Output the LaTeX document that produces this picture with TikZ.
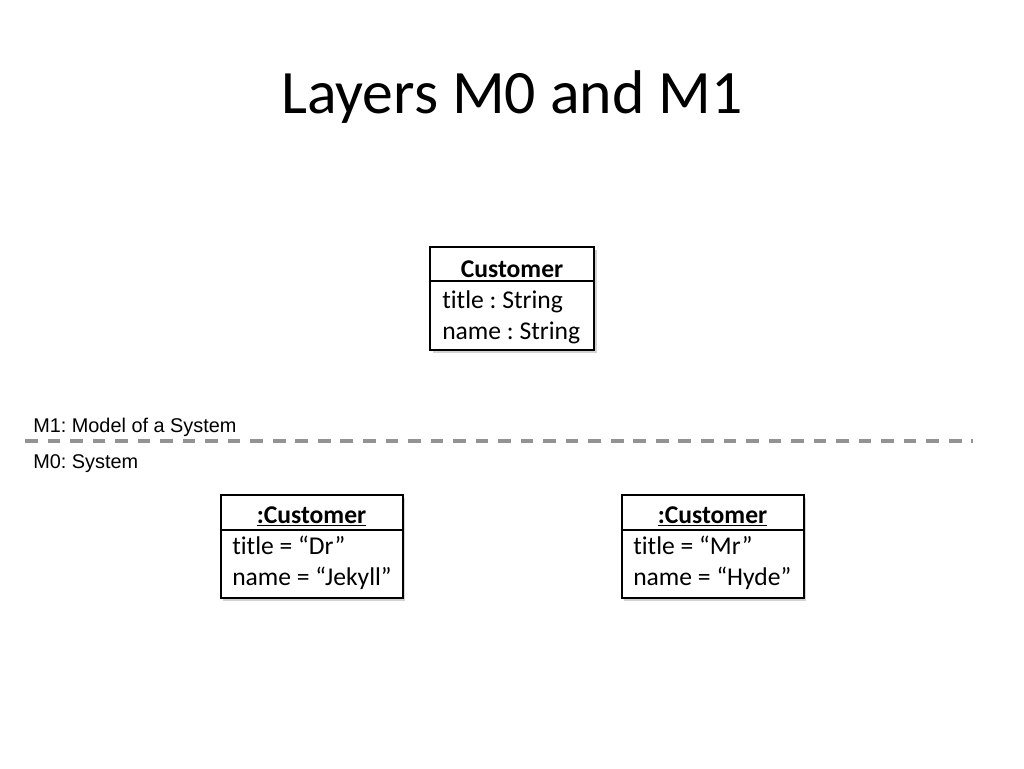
\documentclass[tikz,border=0pt]{standalone}
\usepackage{fontspec}
\setmainfont{Carlito}[Ligatures=NoCommon]
\newfontfamily\labelfont{Liberation Sans}
\usetikzlibrary{shadows, calc}
\frenchspacing
\tikzset{
    cls/.style={draw, line width=1.5pt, fill=white, inner sep=0pt,
        drop shadow={shadow xshift=2pt, shadow yshift=-2pt, opacity=0.35}},
    hd/.style={font=\fontsize{19.2}{23}\selectfont\bfseries, inner sep=0pt, anchor=base},
    attr/.style={font=\fontsize{19.2}{23}\selectfont, inner sep=0pt, anchor=base west},
    lyr/.style={font=\labelfont\fontsize{14.9}{17}\selectfont, inner sep=0pt, anchor=base west},
    divider/.style={draw=gray!85, line width=3pt, dash pattern=on 9.5pt off 7.4pt},
}
\begin{document}
\begin{tikzpicture}[x=0.75pt, y=-0.75pt]
\useasboundingbox (0,0) rectangle (1024,768);
\node[font=\fontsize{46.3}{52}\selectfont, inner sep=0pt] (title) at (512,97) {Layers M0 and M1};

% M1: class
\node[cls, minimum width=123pt, minimum height=77.25pt] (cust) at (512,298.5) {};
\draw[line width=1.5pt] ($(cust.north west)+(0,35)$) -- ($(cust.north east)+(0,35)$);
\node[hd] (custname) at (512,277) {Customer};
\node[attr] (custtitle) at (442,308) {title : String};
\node[attr] (custattr) at (442,339) {name : String};

% layer divider
\node[lyr] (mone) at (33,432) {M1: Model of a System};
\node[lyr] (mzero) at (33,468) {M0: System};
\coordinate (dl) at (25,441);
\coordinate (dr) at (973,441);
\draw[divider] (dl) -- (dr);

% M0: objects
\node[cls, minimum width=136.5pt, minimum height=77.25pt] (jek) at (311.5,546.5) {};
\draw[line width=1.5pt] ($(jek.north west)+(0,36)$) -- ($(jek.north east)+(0,36)$);
\node[hd] (jekname) at (311.5,523) {\underline{:Customer}};
\node[attr] (jektitle) at (232,554) {title = “Dr”};
\node[attr] (jekattr) at (232,585) {name = “Jekyll”};

\node[cls, minimum width=136.5pt, minimum height=77.25pt] (hyd) at (712.5,546.5) {};
\draw[line width=1.5pt] ($(hyd.north west)+(0,36)$) -- ($(hyd.north east)+(0,36)$);
\node[hd] (hydname) at (712.5,523) {\underline{:Customer}};
\node[attr] (hydtitle) at (633,554) {title = “Mr”};
\node[attr] (hydattr) at (633,585) {name = “Hyde”};
\end{tikzpicture}
\end{document}
